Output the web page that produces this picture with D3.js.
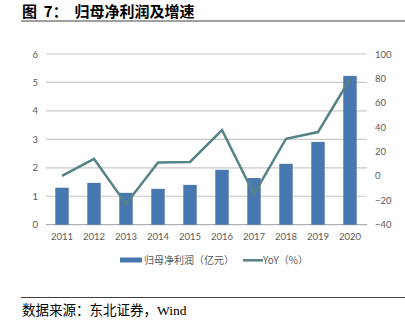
<!DOCTYPE html>
<html>
<head>
<meta charset="utf-8">
<script src="https://cdn.jsdelivr.net/npm/d3@7/dist/d3.min.js"></script>
<style>
  html, body { margin: 0; padding: 0; background: #fff; }
  svg { display: block; }
</style>
</head>
<body>
<script>
// Attributable net profit (100m CNY) and YoY growth (%), 2011–2020
const years = ["2011", "2012", "2013", "2014", "2015", "2016", "2017", "2018", "2019", "2020"];
const netProfit = [1.30, 1.47, 1.12, 1.26, 1.40, 1.93, 1.64, 2.14, 2.91, 5.23];
const yoyGrowth = [0, 14, -23, 11, 11.5, 37.5, -15, 30.5, 36, 79.5];
const leftTicks = [0, 1, 2, 3, 4, 5, 6];
const rightTicks = [-40, -20, 0, 20, 40, 60, 80, 100];

const W = 405, H = 330;
const plot = { left: 46, right: 366, top: 54, bottom: 224.7 };

const svg = d3.select("body").append("svg")
  .attr("width", W).attr("height", H);

const cjk = "'Noto Sans CJK SC', 'Noto Sans', sans-serif";
const axisFont = "Lato, 'Liberation Sans', sans-serif";
const gray = "#595959";

// Title and rule
svg.append("text")
  .attr("x", 22).attr("y", 17)
  .attr("font-family", cjk).attr("font-size", 15).attr("font-weight", 700)
  .attr("fill", "#000").attr("xml:space", "preserve").style("white-space", "pre")
  .text("图  7：  归母净利润及增速");
svg.append("line")
  .attr("x1", 21).attr("x2", W).attr("y1", 21).attr("y2", 21)
  .attr("stroke", "#404040").attr("stroke-width", 1);

// Scales
const x = d3.scaleBand().domain(years).range([plot.left, plot.right]).paddingInner(0.58).paddingOuter(0.29);
const yL = d3.scaleLinear().domain([0, 6]).range([plot.bottom, plot.top]);
const yR = d3.scaleLinear().domain([-40, 100]).range([plot.bottom, plot.top]);

// Gridlines
svg.append("g").selectAll("line").data(leftTicks).join("line")
  .attr("x1", plot.left).attr("x2", plot.right + 1)
  .attr("y1", d => yL(d)).attr("y2", d => yL(d))
  .attr("stroke", d => d === 0 ? "#b0b0b0" : "#c8c8c8").attr("stroke-width", 1.2);

// Left axis
const axL = svg.append("g").attr("transform", `translate(${plot.left - 8},0)`)
  .call(d3.axisLeft(yL).tickValues(leftTicks).tickFormat(d3.format("d")).tickSize(0).tickPadding(0));
axL.select(".domain").remove();
axL.selectAll("text").attr("font-family", axisFont).attr("font-size", 9.5).attr("fill", gray);

// Right axis
const axR = svg.append("g").attr("transform", `translate(${plot.right + 9},0)`)
  .call(d3.axisRight(yR).tickValues(rightTicks).tickFormat(d3.format("d")).tickSize(0).tickPadding(0));
axR.select(".domain").remove();
axR.selectAll("text").attr("font-family", axisFont).attr("font-size", 9.5).attr("fill", gray);

// Bottom axis labels
const axB = svg.append("g").attr("transform", `translate(0,${plot.bottom + 8})`)
  .call(d3.axisBottom(x).tickSize(0).tickPadding(0));
axB.select(".domain").remove();
axB.selectAll("text").attr("font-family", axisFont).attr("font-size", 9.5).attr("fill", gray)
  .attr("dy", "0.75em");

// Bars
const barColor = "#4878b0";
svg.append("g").selectAll("rect").data(netProfit).join("rect")
  .attr("x", (d, i) => x(years[i]))
  .attr("width", x.bandwidth())
  .attr("y", d => yL(d))
  .attr("height", d => yL(0) - yL(d))
  .attr("fill", barColor);

// Growth line
const lineColor = "#548386";
const line = d3.line()
  .x((d, i) => x(years[i]) + x.bandwidth() / 2)
  .y(d => yR(d));
svg.append("path").datum(yoyGrowth)
  .attr("d", line)
  .attr("fill", "none").attr("stroke", lineColor)
  .attr("stroke-width", 2.5).attr("stroke-linejoin", "miter");

// Legend
const lg = svg.append("g").attr("font-family", cjk).attr("font-size", 10).attr("fill", gray);
lg.append("rect").attr("x", 120).attr("y", 257.5).attr("width", 22).attr("height", 5).attr("fill", barColor);
lg.append("text").attr("x", 144).attr("y", 260).attr("dy", "0.35em").text("归母净利润（亿元）");
lg.append("line").attr("x1", 243).attr("x2", 263).attr("y1", 260.3).attr("y2", 260.3)
  .attr("stroke", lineColor).attr("stroke-width", 2.5);
lg.append("text").attr("x", 263).attr("y", 260).attr("dy", "0.35em").text("YoY（%）");

// Source footer
svg.append("line")
  .attr("x1", 21).attr("x2", W).attr("y1", 297.5).attr("y2", 297.5)
  .attr("stroke", "#404040").attr("stroke-width", 1);
svg.append("text")
  .attr("x", 22).attr("y", 315)
  .attr("font-family", "'Liberation Serif', 'Noto Sans CJK SC', serif").attr("font-size", 13.5)
  .attr("fill", "#000")
  .text("数据来源：东北证券，Wind");
</script>
</body>
</html>
